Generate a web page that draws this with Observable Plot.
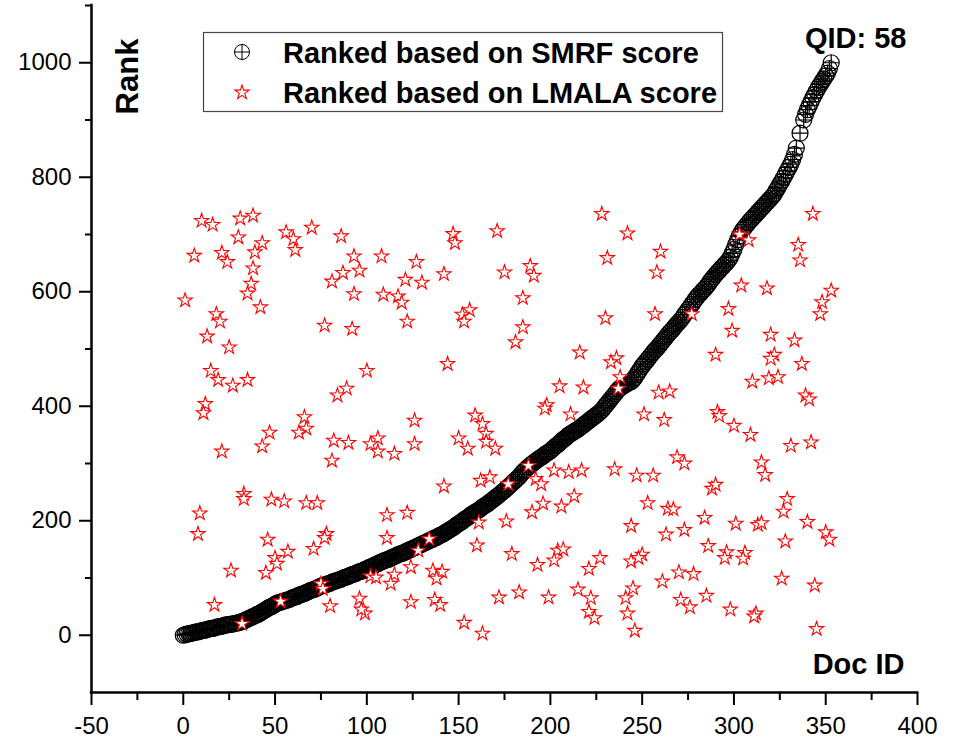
<!DOCTYPE html>
<html><head><meta charset="utf-8">
<script src="https://cdn.jsdelivr.net/npm/d3@7"></script>
<script src="https://cdn.jsdelivr.net/npm/@observablehq/plot@0.6"></script>
<style>
html,body{margin:0;padding:0;background:#fff;}
#chart{position:relative;width:953px;height:741px;}
</style></head><body><div id="chart"></div>
<script>
const panelTitle = "QID: 58";
const xLabel = "Doc ID";
const yLabel = "Rank";
const seriesNames = ["Ranked based on SMRF score", "Ranked based on LMALA score"];
const xMajorTicks = [-50, 0, 50, 100, 150, 200, 250, 300, 350, 400];
const xMinorTicks = [-25, 25, 75, 125, 175, 225, 275, 325, 375];
const yMajorTicks = [0, 200, 400, 600, 800, 1000];
const yMinorTicks = [100, 300, 500, 700, 900, 1100];

// SMRF ranks, one per doc id
const smrfDocIds = [0,1,2,3,4,5,6,7,8,9,10,11,12,13,14,15,16,17,18,19,20,21,22,23,24,25,26,27,28,29,30,31,32,33,34,35,36,37,38,39,40,41,42,43,44,45,46,47,48,49,50,51,52,53,54,55,56,57,58,59,60,61,62,63,64,65,66,67,68,69,70,71,72,73,74,75,76,77,78,79,80,81,82,83,84,85,86,87,88,89,90,91,92,93,94,95,96,97,98,99,100,101,102,103,104,105,106,107,108,109,110,111,112,113,114,115,116,117,118,119,120,121,122,123,124,125,126,127,128,129,130,131,132,133,134,135,136,137,138,139,140,141,142,143,144,145,146,147,148,149,150,151,152,153,154,155,156,157,158,159,160,161,162,163,164,165,166,167,168,169,170,171,172,173,174,175,176,177,178,179,180,181,182,183,184,185,186,187,188,189,190,191,192,193,194,195,196,197,198,199,200,201,202,203,204,205,206,207,208,209,210,211,212,213,214,215,216,217,218,219,220,221,222,223,224,225,226,227,228,229,230,231,232,233,234,235,236,237,238,239,240,241,242,243,244,245,246,247,248,249,250,251,252,253,254,255,256,257,258,259,260,261,262,263,264,265,266,267,268,269,270,271,272,273,274,275,276,277,278,279,280,281,282,283,284,285,286,287,288,289,290,291,292,293,294,295,296,297,298,299,300,301,302,303,304,305,306,307,308,309,310,311,312,313,314,315,316,317,318,319,320,321,322,323,324,325,326,327,328,329,330,331,332,333,334,336,338,339,340,341,342,343,344,345,346,347,348,349,350,351,352,353];
const smrfRanks = [0,1,2,3,3,4,5,6,6,7,8,9,9,10,11,12,12,13,14,15,15,16,17,18,18,19,19,20,21,21,22,23,24,25,27,28,30,31,33,34,36,37,39,41,43,45,47,49,50,52,54,56,57,58,59,60,61,62,63,65,66,67,68,70,71,72,73,75,76,78,79,80,81,83,84,86,87,88,89,90,91,93,94,95,96,97,98,100,101,102,103,105,106,107,108,110,111,112,113,115,116,118,119,121,122,124,125,127,128,130,131,132,133,135,136,138,139,141,142,143,144,146,147,149,150,152,153,155,156,158,159,161,162,164,165,167,168,170,171,173,175,176,178,180,182,184,186,188,190,193,195,197,199,202,204,206,208,211,213,215,217,219,221,224,226,228,230,233,235,238,240,243,245,248,251,253,256,259,262,265,268,271,274,277,281,285,288,291,294,297,299,302,304,307,309,311,313,316,318,320,322,325,328,331,333,336,339,342,344,347,350,352,354,356,358,360,362,365,367,370,372,375,377,380,382,385,387,390,393,397,401,405,409,413,417,421,425,429,432,434,436,438,440,442,443,446,450,455,460,465,470,474,478,482,486,490,494,498,501,505,509,513,517,521,525,529,532,536,540,544,547,551,555,560,564,569,573,578,582,587,591,595,598,602,605,609,613,618,622,626,630,634,637,641,644,648,651,655,660,667,674,683,691,698,704,709,713,717,721,725,728,732,735,739,742,746,749,753,756,760,763,767,771,777,782,788,793,799,805,811,817,823,831,840,851,877,900,910,918,925,932,939,945,951,957,962,967,972,977,982,990,1000];

// [doc id, rank] ranked by LMALA score
const lmalaPoints = [
[10,724],[16,717],[31,728],[38,733],[30,695],[6,663],[21,668],[24,652],[43,685],[39,669],[38,641],[37,614],[35,597],[42,573],[1,585],[56,704],[60,692],[61,673],[70,712],[86,697],[93,662],[108,662],[87,633],[96,637],[81,618],[93,596],[109,595],[117,592],[119,581],[18,561],[20,548],[13,522],[25,503],[77,541],[92,535],[15,462],[19,446],[27,436],[35,446],[100,462],[89,431],[84,419],[12,404],[11,388],[66,381],
[67,361],[63,354],[47,354],[43,330],[21,321],[82,340],[90,336],[81,305],[106,344],[102,334],[106,321],[115,317],[33,247],[33,238],[48,237],[55,234],[67,231],[73,231],[9,213],[8,177],[111,210],[46,167],[78,177],[77,170],[57,146],[71,151],[50,135],[51,125],[45,109],[26,113],[111,170],[102,103],[105,101],[115,106],[113,90],[75,90],[76,81],[17,53],[53,59],[80,51],[96,64],[99,38],[97,45],[32,20],
[228,736],[147,701],[148,685],[171,706],[127,652],[121,621],[130,616],[142,631],[175,634],[189,645],[191,628],[231,659],[185,589],[122,548],[156,568],[152,560],[153,548],[185,538],[181,512],[230,554],[216,494],[144,474],[236,484],[233,477],[238,451],[237,431],[205,435],[218,433],[198,402],[197,396],[211,386],[159,384],[126,375],
[126,334],[163,369],[150,344],[155,326],[165,352],[165,338],[170,326],[188,296],[177,264],[142,260],[162,270],[167,276],[192,273],[195,264],[202,288],[210,285],[217,288],[235,290],[213,243],[196,230],[206,225],[190,215],[122,214],[176,199],[161,197],[134,168],[128,148],[160,157],[179,142],[204,148],[207,150],[202,131],[193,123],[227,135],[221,116],[124,119],[136,113],[141,111],[138,99],[124,58],[137,62],[140,53],[172,66],[183,75],[199,66],[215,80],[222,65],[221,41],[224,30],[153,22],[163,3],
[343,736],[242,702],[303,700],[308,690],[260,670],[258,634],[335,682],[336,655],[304,611],[318,606],[353,602],[348,582],[347,561],[297,570],[257,561],[277,561],[299,532],[320,525],[333,515],[290,490],[322,490],[320,483],[337,474],[310,443],[319,449],[324,451],[259,424],[265,426],[339,419],[341,412],[251,386],[262,376],[291,390],[292,383],
[300,366],[309,350],[331,331],[342,337],[269,311],[273,300],[315,302],[317,280],[247,279],[256,279],[288,256],[290,263],[253,231],[264,221],[267,220],[329,238],[327,216],[244,191],[284,205],[301,195],[313,193],[315,196],[340,198],[350,180],[352,167],[263,176],[273,184],[328,164],[286,156],[296,145],[295,135],[306,144],[305,134],[250,141],[244,129],[248,135],[270,110],[278,107],[261,94],[245,82],[241,65],[242,38],[246,8],[271,62],[276,49],[285,69],[298,45],[312,38],[311,33],[326,99],[344,87],[345,11]
];

const smrfPoints = smrfDocIds.map((d, i) => ({doc: d, rank: smrfRanks[i]}));
const lmala = lmalaPoints.map(([doc, rank]) => ({doc, rank}));

const FONT = "'Liberation Sans', Arial, Helvetica, sans-serif";
const RED = "#ff0000";

// circle with a plus (⊕) marker
const circlePlus = {
  draw(ctx, size) {
    const r = Math.sqrt(size / Math.PI);
    ctx.moveTo(r, 0);
    ctx.arc(0, 0, r, 0, 2 * Math.PI);
    ctx.moveTo(-r, 0); ctx.lineTo(r, 0);
    ctx.moveTo(0, -r); ctx.lineTo(0, r);
  }
};
const SMRF_R = 8, STAR_R = 4.5;

const svg = Plot.plot({
  width: 953,
  height: 741,
  marginLeft: 91,
  marginRight: 36,
  marginTop: 5,
  marginBottom: 49,
  x: {domain: [-50, 400], label: null},
  y: {domain: [-100, 1100], label: null},
  style: {fontFamily: FONT, background: "#fff", color: "#000", overflow: "visible"},
  marks: [
    Plot.axisX({ticks: xMinorTicks, tickSize: 8, tickFormat: () => "", label: null, strokeWidth: 2}),
    Plot.axisX({ticks: xMajorTicks, tickSize: 13, tickPadding: 11, tickFormat: d => String(d), fontSize: 24, label: null, strokeWidth: 2}),
    Plot.axisY({ticks: yMinorTicks, tickSize: 6, tickFormat: () => "", label: null, strokeWidth: 2}),
    Plot.axisY({ticks: yMajorTicks, tickSize: 12, tickPadding: 8, tickFormat: d => String(d), fontSize: 24, label: null, strokeWidth: 2}),
    Plot.ruleX([-50], {y1: -100, y2: 1100, strokeWidth: 2.5, strokeLinecap: "square"}),
    Plot.ruleY([-100], {x1: -50, x2: 400, strokeWidth: 2.5, strokeLinecap: "square"}),
    Plot.dot(smrfPoints, {x: "doc", y: "rank", symbol: circlePlus, r: SMRF_R, stroke: "#000", strokeWidth: 1.2, fill: "none"}),
    Plot.dot(lmala, {x: "doc", y: "rank", symbol: "star", r: STAR_R, stroke: RED, strokeWidth: 1.1, fill: "#fff"}),
    Plot.text([panelTitle], {text: d => d, frameAnchor: "top-right", dx: -11, dy: 22, textAnchor: "end", fontSize: 29, fontWeight: "bold"}),
    Plot.text([xLabel], {text: d => d, frameAnchor: "bottom-right", dx: -13, dy: -19, textAnchor: "end", fontSize: 29, fontWeight: "bold"}),
    Plot.text([yLabel], {text: d => d, frameAnchor: "top-left", dx: 24, dy: 71, rotate: -90, textAnchor: "middle", fontSize: 31, fontWeight: "bold"})
  ]
});

// legend box
const s = d3.select(svg);
const lg = s.append("g").attr("font-family", FONT).attr("text-anchor", "start");
lg.append("rect").attr("x", 203.5).attr("y", 32.5).attr("width", 519).attr("height", 79)
  .attr("fill", "#fff").attr("stroke", "#444").attr("stroke-width", 1.2);
lg.append("path").attr("transform", "translate(242,52)")
  .attr("d", d3.symbol(circlePlus, Math.PI * 7.5 * 7.5)())
  .attr("fill", "none").attr("stroke", "#000").attr("stroke-width", 1);
lg.append("path").attr("transform", "translate(242,92.5)")
  .attr("d", d3.symbol(d3.symbolStar, Math.PI * STAR_R * STAR_R)())
  .attr("fill", "#fff").attr("stroke", RED).attr("stroke-width", 1.1);
lg.selectAll("text.leg").data(seriesNames).join("text")
  .attr("class", "leg")
  .attr("x", 283)
  .attr("y", (d, i) => i === 0 ? 63 : 102.5)
  .attr("text-anchor", "start")
  .attr("font-size", 29).attr("font-weight", "bold").attr("fill", "#000")
  .text(d => d);

document.getElementById("chart").appendChild(svg);
</script></body></html>
